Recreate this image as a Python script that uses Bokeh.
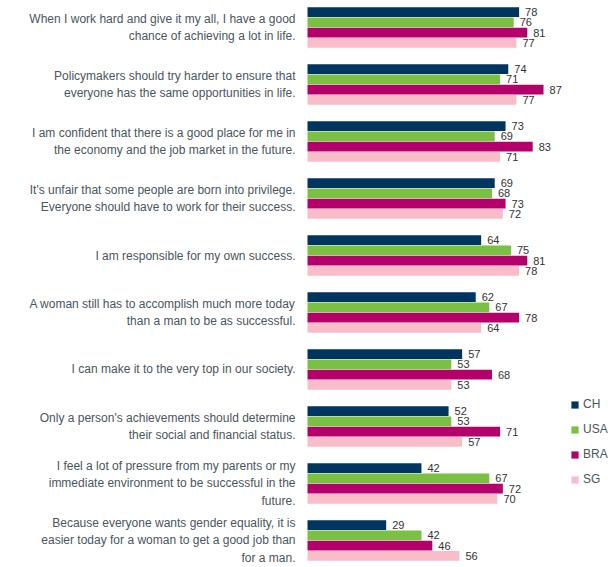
from bokeh.plotting import figure
from bokeh.models import ColumnDataSource, FactorRange, Range1d, Legend, LegendItem
from bokeh.core.properties import value
from bokeh.embed import file_html
from bokeh.resources import INLINE

statements = [
    "When I work hard and give it my all, I have a good\nchance of achieving a lot in life.",
    "Policymakers should try harder to ensure that\neveryone has the same opportunities in life.",
    "I am confident that there is a good place for me in\nthe economy and the job market in the future.",
    "It's unfair that some people are born into privilege.\nEveryone should have to work for their success.",
    "I am responsible for my own success.",
    "A woman still has to accomplish much more today\nthan a man to be as successful.",
    "I can make it to the very top in our society.",
    "Only a person's achievements should determine\ntheir social and financial status.",
    "I feel a lot of pressure from my parents or my\nimmediate environment to be successful in the\nfuture.",
    "Because everyone wants gender equality, it is\neasier today for a woman to get a good job than\nfor a man.",
]
countries = ["CH", "USA", "BRA", "SG"]
ch = [78, 74, 73, 69, 64, 62, 57, 52, 42, 29]
usa = [76, 71, 69, 68, 75, 67, 53, 53, 67, 42]
bra = [81, 87, 83, 73, 81, 78, 68, 71, 72, 46]
sg = [77, 77, 71, 72, 78, 64, 53, 57, 70, 56]
colors = ["#00355F", "#7AC143", "#B4006A", "#F9BDCA"]

series = [ch, usa, bra, sg]
keys = ["q%d" % (i + 1) for i in range(len(statements))]

# factors from bottom to top
factors = []
for k in reversed(keys):
    for c in reversed(countries):
        factors.append((k, c))

W, H = 613, 567
p = figure(width=W, height=H, output_backend="svg", toolbar_location=None,
           y_range=FactorRange(factors=factors, group_padding=1.56, factor_padding=0,
                               range_padding=0.635, range_padding_units="absolute"),
           x_range=Range1d(-113.16, 112.79),
           min_border=0, min_border_left=0, min_border_right=0, min_border_top=0, min_border_bottom=0)
p.outline_line_color = None
p.xaxis.visible = False
p.yaxis.visible = False
p.xgrid.visible = False
p.ygrid.visible = False
p.background_fill_color = "white"

renderers = []
for c, vals, col in zip(countries, series, colors):
    src = ColumnDataSource(dict(y=[(k, c) for k in keys], v=vals, lab=[str(v) for v in vals]))
    r = p.hbar(y="y", left=0, right="v", height=0.96, source=src, fill_color=col, line_color=None)
    renderers.append(r)
    p.text(x="v", y="y", text="lab", source=src, x_offset=6, text_align="left", text_baseline="middle",
           text_font=value("Liberation Sans"), text_font_size="11px", text_color="#333333")

lsrc = ColumnDataSource(dict(y=keys, t=statements))
p.text(x=0, y="y", text="t", source=lsrc, x_offset=-12, text_align="right", text_baseline="middle",
       text_font=value("Liberation Sans"), text_font_size="12px", text_color="#4A5560",
       text_line_height=1.25)

legend = Legend(items=[LegendItem(label=c, renderers=[r]) for c, r in zip(countries, renderers)],
                location=(570, 78), padding=0, margin=0, spacing=5, glyph_width=9, glyph_height=9,
                label_height=20, label_standoff=4, border_line_color=None, background_fill_alpha=0,
                label_text_font="Liberation Sans", label_text_font_size="12px",
                label_text_color="#4A5560")
p.add_layout(legend)

open("out.html", "w").write(file_html(p, INLINE))
